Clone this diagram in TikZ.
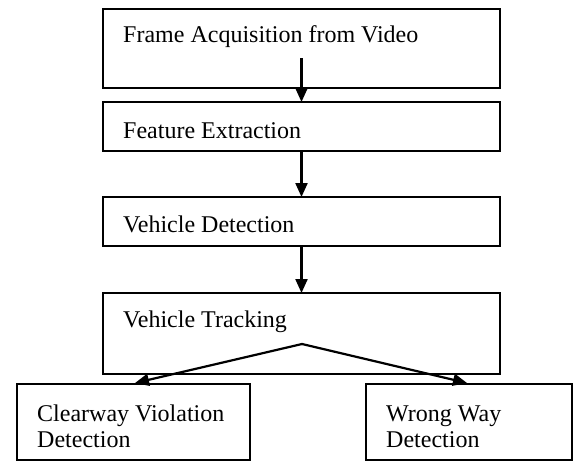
\documentclass[tikz,border=0pt]{standalone}
\usepackage{fontspec}
\setmainfont{Liberation Serif}
\usetikzlibrary{arrows.meta}
\begin{document}
\begin{tikzpicture}[x=1pt,y=-1pt,
  box/.style={draw=black,line width=2.2pt,inner sep=0pt,outer sep=0pt},
  lbl/.style={anchor=base west,inner sep=0pt,font=\fontsize{24}{26}\selectfont},
  arr/.style={line width=2.2pt,-{Triangle[length=14pt,width=12pt]}},
  ln/.style={line width=2.2pt}]
\useasboundingbox (0,0) rectangle (579,464);
\node[box,minimum width=397pt,minimum height=79pt] (b1) at (301.5,48.5) {};
\node[box,minimum width=397pt,minimum height=49pt] (b2) at (301.5,126.5) {};
\node[box,minimum width=397pt,minimum height=49pt] (b3) at (301.5,221.5) {};
\node[box,minimum width=397pt,minimum height=81pt] (b4) at (301.5,333.5) {};
\node[box,minimum width=233pt,minimum height=76pt] (b5) at (133.5,422) {};
\node[box,minimum width=206pt,minimum height=76pt] (b6) at (469,422) {};
\node[lbl] (t1) at (123,42) {Frame Acquisition from Video};
\node[lbl] (t2) at (123,138) {Feature Extraction};
\node[lbl] (t3) at (123,232) {Vehicle Detection};
\node[lbl] (t4) at (123,327) {Vehicle Tracking};
\node[lbl] (t5a) at (37,421) {Clearway Violation};
\node[lbl] (t5b) at (37,447) {Detection};
\node[lbl] (t6a) at (386,421) {Wrong Way};
\node[lbl] (t6b) at (386,447) {Detection};
\coordinate (s1) at (301.5,58);
\coordinate (apex) at (302,344);
\coordinate (tipL) at (135,383);
\coordinate (tipR) at (467,383);
\draw[arr] (s1) -- (b2.north);
\draw[arr] (b2.south) -- (b3.north);
\draw[arr] (b3.south) -- (b4.north);
\draw[arr] (apex) -- (tipL);
\draw[arr] (apex) -- (tipR);
\end{tikzpicture}
\end{document}
